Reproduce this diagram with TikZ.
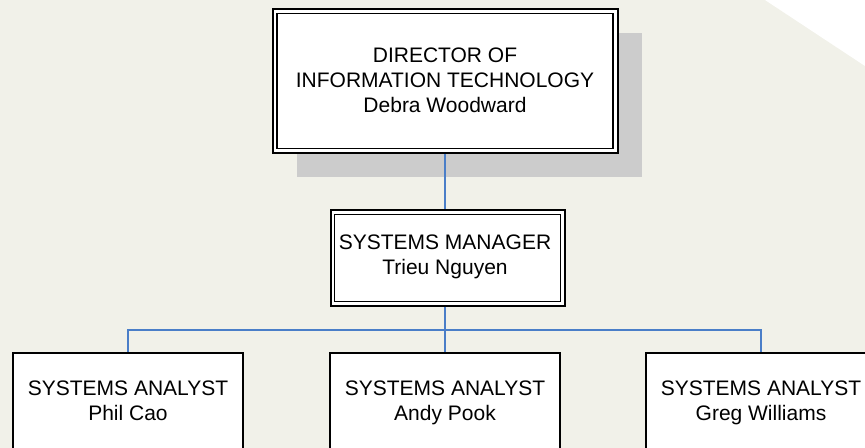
\documentclass[tikz,border=0pt]{standalone}
\usepackage{fontspec}
\setmainfont{Liberation Sans}
\usetikzlibrary{shadows}
\definecolor{paper}{RGB}{241,241,233}
\definecolor{shade}{RGB}{204,204,204}
\definecolor{link}{RGB}{74,126,200}
\tikzset{
  % a multi-line label sits on the baseline of its last line
  lbl/.style={font=\fontsize{21bp}{25bp}\selectfont, align=center, anchor=base, inner sep=0pt},
  framebox/.style={draw=black, fill=white, line width=2bp, outer sep=0pt, inner sep=0pt},
  innerframe/.style={draw=black, line width=1.2bp},
  conn/.style={draw=link, line width=1.6bp, shorten <=1bp, shorten >=1bp},
}
\begin{document}
\begin{tikzpicture}[x=1bp,y=-1bp]
  % page background with the white corner
  \fill[paper] (0,0) rectangle (865,448);
  \useasboundingbox (0,0) rectangle (865,448);
  \fill[white] (765,0) -- (865,0) -- (865,66) -- cycle;
  \begin{scope}
    \clip (0,0) rectangle (865,448);

    % director, with drop shadow and double frame
    \node[framebox, minimum width=345bp, minimum height=144.3bp,
          general shadow={fill=shade, shadow xshift=24.5bp, shadow yshift=-24bp}]
          (dir) at (445,81.2) {};
    \draw[innerframe] ([shift={(4.5,4.5)}]dir.north west) rectangle ([shift={(-4.5,-4.5)}]dir.south east);
    \node[lbl] (dirt) at (445,113) {DIRECTOR OF\\INFORMATION TECHNOLOGY\\Debra Woodward};

    % systems manager, double frame
    \node[framebox, minimum width=234bp, minimum height=95.7bp] (mgr) at (447.5,257.85) {};
    \draw[innerframe] ([shift={(4.3,4.3)}]mgr.north west) rectangle ([shift={(-4.3,-4.3)}]mgr.south east);
    \node[lbl] (mgrt) at (445,275) {SYSTEMS MANAGER\\Trieu Nguyen};

    % analysts, frames run past the lower edge
    \node[framebox, anchor=north, minimum width=230bp, minimum height=150bp] (an1) at (128,353) {};
    \node[framebox, anchor=north, minimum width=230bp, minimum height=150bp] (an2) at (445,353) {};
    \node[framebox, anchor=north, minimum width=230bp, minimum height=150bp] (an3) at (761,353) {};
    \node[lbl] (an1t) at (128,420.5) {SYSTEMS ANALYST\\Phil Cao};
    \node[lbl] (an2t) at (445,420.5) {SYSTEMS ANALYST\\Andy Pook};
    \node[lbl] (an3t) at (761,420.5) {SYSTEMS ANALYST\\Greg Williams};

    % reporting lines
    \coordinate (jn) at (445,330);
    \draw[conn] (dir.south) -- (dir.south |- mgr.north);
    \draw[conn] (mgr.south -| jn) -- (an2.north -| jn);
    \draw[conn] (an1.north) |- (jn) -| (an3.north);
  \end{scope}
\end{tikzpicture}
\end{document}
